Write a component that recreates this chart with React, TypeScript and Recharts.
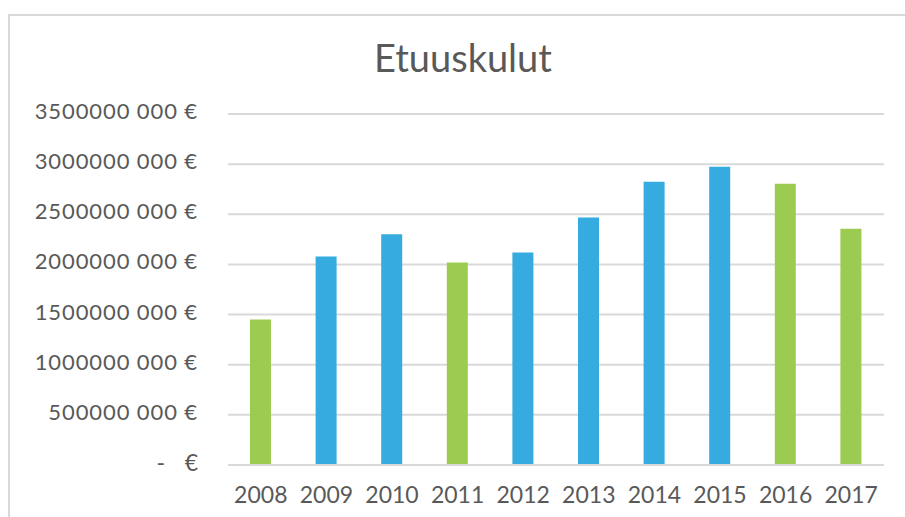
import React from 'react';
import { BarChart, Bar, XAxis, YAxis, CartesianGrid, Cell } from 'recharts';

// Etuuskulut vuosittain (euroa)
const years = ['2008', '2009', '2010', '2011', '2012', '2013', '2014', '2015', '2016', '2017'];
const costs = [
  1450000000, 2080000000, 2300000000, 2020000000, 2120000000,
  2467000000, 2825000000, 2975000000, 2805000000, 2357000000,
];
const greenYears = ['2008', '2011', '2016', '2017'];
const yTicks = [0, 500000000, 1000000000, 1500000000, 2000000000, 2500000000, 3000000000, 3500000000];

const BLUE = '#35ABE0';
const GREEN = '#9BCB50';
const TEXT = '#595959';
const GRID = '#D9D9D9';

const data = years.map((y, i) => ({ year: y, value: costs[i] }));

const fmtEuro = (v: number) => `${v / 1000} 000 €`;

const YTick = (props: any) => {
  const { x, y, payload } = props;
  const v = payload.value as number;
  if (v === 0) {
    return (
      <g>
        <text x={x - 33} y={y} dy={6} textAnchor="end" fill={TEXT} fontSize={23}>-</text>
        <text x={x} y={y} dy={6} textAnchor="end" fill={TEXT} fontSize={23}>€</text>
      </g>
    );
  }
  return (
    <text x={x} y={y} dy={5} textAnchor="end" fill={TEXT} fontSize={22} letterSpacing={0.9}>
      {fmtEuro(v)}
    </text>
  );
};

export default function App() {
  return (
    <div style={{ position: 'absolute', left: 0, top: 0, width: 905, height: 517, overflow: 'hidden', background: '#fff', fontFamily: 'Lato, sans-serif' }}>
      <div style={{ position: 'absolute', left: 8, top: 14, width: 940, height: 540, border: `2px solid ${GRID}`, boxSizing: 'border-box' }} />
      <svg width={905} height={100} style={{ position: 'absolute', left: 0, top: 0 }}>
        <text x={463} y={72} textAnchor="middle" fill={TEXT} fontSize={38}>Etuuskulut</text>
      </svg>
      <div style={{ position: 'absolute', left: 0, top: 0 }}>
        <BarChart width={905} height={517} data={data} margin={{ top: 114, right: 21, bottom: 0, left: 0 }}>
          <CartesianGrid vertical={false} stroke={GRID} strokeWidth={2} />
          <XAxis
            dataKey="year"
            height={52}
            axisLine={{ stroke: GRID, strokeWidth: 2 }}
            tickLine={false}
            tickSize={0}
            tickMargin={22}
            tick={{ fill: TEXT, fontSize: 23 }}
            interval={0}
          />
          <YAxis
            width={228}
            domain={[0, 3500000000]}
            ticks={yTicks}
            axisLine={false}
            tickLine={false}
            tickSize={0}
            tickMargin={30}
            tick={<YTick />}
            interval={0}
          />
          <Bar dataKey="value" barSize={21} isAnimationActive={false}>
            {data.map((d) => (
              <Cell key={d.year} fill={greenYears.includes(d.year) ? GREEN : BLUE} />
            ))}
          </Bar>
        </BarChart>
      </div>
    </div>
  );
}
